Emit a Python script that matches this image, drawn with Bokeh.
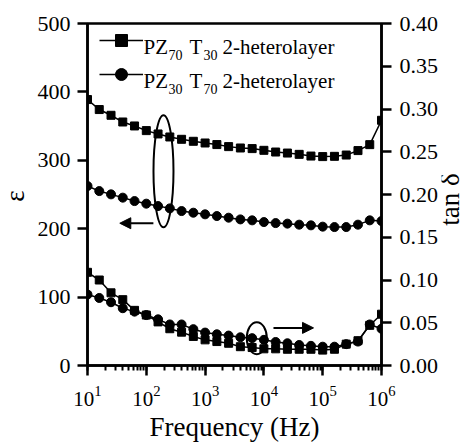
from math import pi
from bokeh.plotting import figure
from bokeh.layouts import row, column
from bokeh.models import (Range1d, LinearAxis, LogTicker, FixedTicker, PrintfTickFormatter,
                          Label, Legend, LegendItem, Arrow, NormalHead)
from bokeh.embed import file_html
from bokeh.resources import INLINE
from bokeh.core.properties import value

# ---------------- data ----------------
freq = [10, 15.85, 25.12, 39.81, 63.1, 100, 158.5, 251.2, 398.1, 631, 1000, 1585, 2512, 3981,
        6310, 10000, 15850, 25120, 39810, 63100, 100000, 158500, 251200, 398100, 631000, 1000000]

eps_pz70 = [388.8, 374.2, 365.8, 356.0, 350.2, 343.4, 338.5, 334.1, 330.7, 327.8, 325.3, 323.0, 320.0,
            318.0, 317.1, 314.6, 312.1, 310.6, 308.7, 306.2, 305.4, 305.8, 307.7, 314.2, 322.9, 358.5]
eps_pz30 = [262.4, 255.0, 250.2, 245.4, 240.4, 236.6, 233.1, 229.7, 225.8, 223.4, 221.0, 218.5, 216.1,
            213.6, 212.2, 209.7, 208.2, 207.4, 205.9, 204.9, 203.0, 202.4, 202.4, 205.9, 212.2, 211.2]
tan_pz70 = [0.109, 0.100, 0.085, 0.077, 0.0645, 0.059, 0.051, 0.043, 0.039, 0.034, 0.030, 0.028, 0.026,
            0.022, 0.021, 0.0195, 0.0195, 0.019, 0.019, 0.019, 0.018, 0.019, 0.025, 0.029, 0.047, 0.060]
tan_pz30 = [0.083, 0.079, 0.074, 0.067, 0.063, 0.059, 0.054, 0.048, 0.048, 0.0425, 0.0385, 0.0365, 0.035,
            0.033, 0.032, 0.030, 0.0275, 0.026, 0.024, 0.023, 0.022, 0.022, 0.025, 0.028, 0.048, 0.043]

eps_ticks = [0, 100, 200, 300, 400, 500]
tan_ticks = [0.0, 0.05, 0.10, 0.15, 0.20, 0.25, 0.30, 0.35, 0.40]

x_title = "Frequency (Hz)"
y_title = "ε"
y2_title = "tan δ"

FONT = "Liberation Serif"
LEFT_W, MAIN_W, RIGHT_W = 30, 411, 26
MAIN_H, BOTTOM_H = 412, 30

p = figure(width=MAIN_W, height=MAIN_H, x_axis_type="log",
           x_range=Range1d(10, 1e6), y_range=Range1d(0, 500),
           output_backend="svg", toolbar_location=None,
           min_border_left=57, min_border_right=60, min_border_top=23, min_border_bottom=47)
p.extra_y_ranges = {"tan": Range1d(0, 0.4)}
p.grid.visible = False
p.outline_line_color = "black"
p.outline_line_width = 2.5
p.outline_line_alpha = 1.0
p.background_fill_color = "white"
p.border_fill_color = "white"

# ---------------- series ----------------
r1l = p.line(freq, eps_pz70, line_color="black", line_width=1.5)
r1s = p.scatter(freq, eps_pz70, marker="square", size=8, color="black")
r2l = p.line(freq, eps_pz30, line_color="black", line_width=1.5)
r2s = p.scatter(freq, eps_pz30, marker="circle", size=9, color="black")
p.line(freq, tan_pz70, line_color="black", line_width=1.5, y_range_name="tan")
p.scatter(freq, tan_pz70, marker="square", size=8, color="black", y_range_name="tan")
p.line(freq, tan_pz30, line_color="black", line_width=1.5, y_range_name="tan")
p.scatter(freq, tan_pz30, marker="circle", size=9, color="black", y_range_name="tan")

# ---------------- axes ----------------
def style(ax, size="22px"):
    ax.axis_line_width = 2.5
    ax.axis_line_color = "black"
    ax.major_tick_line_width = 2.5
    ax.major_tick_out = 10
    ax.major_tick_in = 0
    ax.major_label_text_font = FONT
    ax.major_label_text_font_size = size
    ax.major_label_text_color = "black"
    ax.major_label_standoff = 7

xax = p.xaxis[0]
xax.ticker = LogTicker(num_minor_ticks=10)
style(xax, "21px")
xax.minor_tick_line_width = 2
xax.minor_tick_out = 5
xax.minor_tick_in = 0
xax.major_label_standoff = 10

yax = p.yaxis[0]
yax.ticker = FixedTicker(ticks=eps_ticks)
style(yax)
yax.minor_tick_line_color = None

rax = LinearAxis(y_range_name="tan", ticker=FixedTicker(ticks=tan_ticks),
                 formatter=PrintfTickFormatter(format="%.2f"))
style(rax)
rax.minor_tick_line_color = None
rax.major_label_standoff = 8
p.add_layout(rax, "right")

# ---------------- legend ----------------
def lab(text, x, y, size):
    p.add_layout(Label(x=x, y=y, x_units="screen", y_units="screen", text=text,
                       text_align="left", text_baseline="alphabetic", text_font=FONT,
                       text_font_size=size, text_color="black"))

legend = Legend(items=[LegendItem(label=value(" "), renderers=[r1l, r1s]),
                       LegendItem(label=value(" "), renderers=[r2l, r2s])],
                location=(12, 276), glyph_width=44, glyph_height=30, spacing=4, padding=0,
                label_standoff=0, label_text_font_size="8px", background_fill_alpha=0,
                border_line_alpha=0, margin=0)
p.add_layout(legend)

rows = [(318.5, "70", "30"), (284.5, "30", "70")]
for yb, s1, s2 in rows:
    lab("PZ", 56, yb, "21px")
    lab(s1, 81, yb - 8, "14px")
    lab("T", 102, yb, "21px")
    lab(s2, 116, yb - 8, "14px")
    lab("2-heterolayer", 135, yb, "21px")

# ---------------- annotations ----------------
p.ellipse(x=196, y=284, width=20, height=112, width_units="screen", height_units="screen",
          fill_color=None, line_color="black", line_width=2)
p.ellipse(x=7570, y=40, width=20, height=32, width_units="screen", height_units="screen",
          fill_color=None, line_color="black", line_width=2)
p.add_layout(Arrow(x_start=132, y_start=208, x_end=35.4, y_end=208, line_width=2,
                   end=NormalHead(size=11, fill_color="black", line_color="black", line_width=1)))
p.add_layout(Arrow(x_start=14550, y_start=55, x_end=69800, y_end=55, line_width=2,
                   end=NormalHead(size=11, fill_color="black", line_color="black", line_width=1)))

# ---------------- axis-title strips ----------------
def strip(w, h):
    f = figure(width=w, height=h, x_range=Range1d(0, w), y_range=Range1d(0, h), title=None,
               output_backend="svg", toolbar_location=None,
               x_axis_location=None, y_axis_location=None,
               min_border_left=0, min_border_right=0, min_border_top=0, min_border_bottom=0)
    f.grid.visible = False
    f.outline_line_color = None
    f.background_fill_color = "white"
    f.border_fill_color = "white"
    return f

left = strip(LEFT_W, MAIN_H)
left.text(x=[14.5], y=[MAIN_H - 208], text=[y_title], angle=pi / 2, text_align="center",
          text_baseline="alphabetic", text_font=value(FONT), text_font_size="27px",
          text_color="black")

right = strip(RIGHT_W, MAIN_H)
right.text(x=[8], y=[MAIN_H - 212], text=[y2_title], angle=pi / 2, text_align="center",
           text_baseline="alphabetic", text_font=value(FONT), text_font_size="27px",
           text_color="black")

bottom = strip(LEFT_W + MAIN_W + RIGHT_W, BOTTOM_H)
bottom.text(x=[LEFT_W + 57 + 147], y=[16], text=[x_title], text_align="center",
            text_baseline="alphabetic", text_font=value(FONT), text_font_size="27px",
            text_color="black")

layout = column(row(left, p, right, spacing=0), bottom, spacing=0)
open("out.html", "w").write(file_html(layout, INLINE))
